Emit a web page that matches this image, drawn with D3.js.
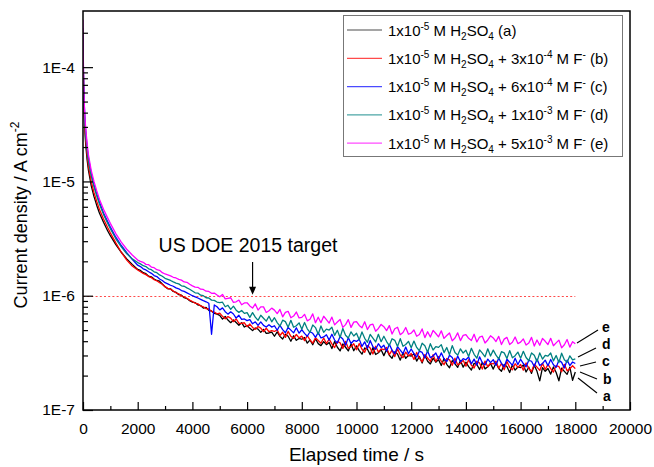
<!DOCTYPE html>
<html><head><meta charset="utf-8">
<script src="https://cdn.jsdelivr.net/npm/d3@7/dist/d3.min.js"></script>
<style>body{margin:0;background:#fff}svg{display:block}text{font-family:"Liberation Sans",Arial,sans-serif}</style>
</head><body><svg id="c" width="654" height="467"></svg>
<script>
// ---- data (current density in nA cm^-2, time in s) ----
const timeS = [0,10,25,50,75,100,150,200,300,400,500,600,750,900,1000,1200,1400,1600,1800,
2000,2100,2200,2300,2400,2500,2600,2700,2800,2900,
3000,3100,3200,3300,3400,3500,3600,3700,3800,3900,
4000,4100,4200,4300,4400,4500,4600,4700,4800,4900,
5000,5100,5200,5300,5400,5500,5600,5700,5800,5900,
6000,6100,6200,6300,6400,6500,6600,6700,6800,6900,
7000,7100,7200,7300,7400,7500,7600,7700,7800,7900,
8000,8100,8200,8300,8400,8500,8600,8700,8800,8900,
9000,9100,9200,9300,9400,9500,9600,9700,9800,9900,
10000,10100,10200,10300,10400,10500,10600,10700,10800,10900,
11000,11100,11200,11300,11400,11500,11600,11700,11800,11900,
12000,12100,12200,12300,12400,12500,12600,12700,12800,12900,
13000,13100,13200,13300,13400,13500,13600,13700,13800,13900,
14000,14100,14200,14300,14400,14500,14600,14700,14800,14900,
15000,15100,15200,15300,15400,15500,15600,15700,15800,15900,
16000,16100,16200,16300,16400,16500,16600,16700,16800,16900,
17000,17100,17200,17300,17400,17500,17600,17700,17800,17900,
18000];

const curA = [200000,100000,55000,35000,26000,21000,15500,12500,9200,7400,6200,5300,4400,3700,3350,2800,2400,2100,1880,
1700,1665,1590,1560,1480,1465,1400,1360,1340,1265,
1200,1150,1150,1090,1070,1020,1010,960,945,905,
880,870,830,820,780,790,745,735,700,690,
673,624,659,612,581,613,582,552,581,532,
549,518,495,522,510,478,508,469,472,481,
442,482,441,418,460,442,400,446,407,423,
416,431,385,411,372,420,381,366,397,373,
390,345,397,354,329,379,354,329,378,330,
364,331,308,349,340,305,351,306,317,337,
299,338,301,283,323,309,273,318,283,301,
296,311,268,294,258,302,267,253,284,262,
276,245,282,251,234,270,253,236,271,237,
262,240,224,256,250,226,261,229,239,255,
228,258,231,218,250,240,213,249,223,238,
235,248,215,237,209,246,218,180,235,218,
231,206,238,213,180,232,218,205,237,182,
215];

const curB = [210000,105000,58000,37000,28000,23000,17000,13500,10000,8000,6700,5700,4700,3950,3550,2900,2400,2050,1820,
1680,1620,1570,1530,1470,1440,1380,1350,1300,1260,
1200,1160,1140,1100,1060,1040,1000,975,950,915,
890,860,850,815,800,770,765,730,720,695,
704,660,628,657,637,593,626,574,573,580,
536,565,528,508,538,520,485,519,484,494,
487,504,449,479,432,487,441,423,458,428,
443,405,447,410,385,428,406,384,426,382,
417,379,352,398,387,346,399,347,358,380,
337,381,340,320,366,349,309,361,322,342,
337,353,305,334,293,343,303,287,321,297,
312,277,319,284,264,305,285,266,305,266,
294,268,249,282,275,246,284,248,256,272,
242,275,246,233,267,257,228,268,239,256,
253,267,232,255,225,266,236,225,254,236,
250,223,258,231,217,252,237,222,257,226,
251,230,215,245,240,216,251,220,229,244,
230];

const curC = [190000,115000,68000,45000,34000,27500,20000,16000,11800,9400,7800,6600,5300,4450,3980,3250,2750,2380,2080,
1850,1800,1720,1680,1620,1570,1500,1470,1400,1360,
1300,1270,1235,1210,1170,1150,1110,1090,1060,1030,
1000,978,955,930,905,885,860,460,830,800,
751,783,725,690,723,692,638,674,621,626,
606,617,568,591,549,590,550,532,558,532,
546,499,551,505,474,528,500,473,524,470,
504,468,442,484,469,432,477,427,436,455,
409,460,409,385,439,418,369,430,382,406,
398,417,360,395,346,406,358,340,380,351,
369,327,376,334,310,358,334,311,356,311,
342,311,290,328,319,286,329,287,297,315,
280,316,281,265,302,288,255,297,264,281,
275,291,253,279,247,292,259,248,279,260,
276,246,285,256,239,278,262,246,284,250,
278,255,239,272,267,240,279,245,255,273,
244,277,249,236,272,261,233,273,245,263,
255];

const curD = [220000,105000,62000,40000,31000,25500,19000,15000,11200,9000,7500,6350,5150,4300,3850,3150,2680,2330,2100,
1950,1900,1830,1800,1720,1690,1620,1590,1520,1480,
1420,1390,1360,1320,1290,1270,1220,1210,1170,1140,
1100,1060,1055,1010,1000,960,955,915,910,880,
869,877,801,825,760,810,747,715,742,700,
711,647,712,650,608,674,636,599,661,591,
642,582,541,611,593,530,609,530,546,579,
510,583,513,478,554,526,459,544,478,511,
501,530,450,499,431,517,451,426,483,444,
470,412,482,424,391,458,426,394,460,396,
442,397,366,420,407,360,421,361,374,399,
350,401,353,330,384,365,320,380,335,359,
353,373,318,352,305,366,319,302,343,315,
334,294,347,307,284,336,314,292,343,297,
334,302,280,324,316,282,331,286,299,321,
284,326,288,270,316,301,265,316,279,301,
296,315,269,300,260,314,275,261,298,275,
280];

const curE = [260000,130000,72000,46000,35000,29000,21500,17000,12500,10000,8300,7000,5700,4800,4300,3500,2950,2550,2270,
2050,2000,1960,1880,1870,1780,1760,1690,1670,1590,
1550,1520,1490,1450,1430,1390,1370,1320,1310,1260,
1220,1190,1185,1140,1135,1095,1090,1050,1055,1015,
980,1027,937,949,960,874,885,916,834,864,
867,814,780,848,749,798,799,714,739,779,
748,698,759,654,714,730,641,664,720,639,
647,687,603,623,693,580,649,581,661,618,
576,650,556,588,619,528,559,618,528,587,
594,550,524,592,506,556,563,489,517,561,
536,495,548,462,514,530,456,477,527,460,
470,501,442,458,512,430,484,435,497,467,
437,493,423,448,472,403,427,473,405,450,
456,424,406,460,394,435,442,386,410,446,
427,397,441,374,417,432,374,392,435,381,
392,419,370,385,432,363,410,369,423,399,
374,424,365,387,409,350,372,414,355,396,
380];

const seriesKeys = ["a","b","c","d","e"];
const seriesColors = ["#000000","#ff0000","#0000ff","#008080","#ff00ff"];
const seriesValues = [curA,curB,curC,curD,curE];
const legendLabels = [
  "1x10^{-5} M H_{2}SO_{4} (a)",
  "1x10^{-5} M H_{2}SO_{4} + 3x10^{-4} M F^{-} (b)",
  "1x10^{-5} M H_{2}SO_{4} + 6x10^{-4} M F^{-} (c)",
  "1x10^{-5} M H_{2}SO_{4} + 1x10^{-3} M F^{-} (d)",
  "1x10^{-5} M H_{2}SO_{4} + 5x10^{-3} M F^{-} (e)"
];
const xMajorTicks = [0,2000,4000,6000,8000,10000,12000,14000,16000,18000,20000];
const xMinorTicks = [1000,3000,5000,7000,9000,11000,13000,15000,17000,19000];
const yMajorTicks = [1e-7,1e-6,1e-5,1e-4];
const yTickLabels = ["1E-7","1E-6","1E-5","1E-4"];
const yMinorTicks = [2e-7,3e-7,4e-7,5e-7,6e-7,7e-7,8e-7,9e-7,2e-6,3e-6,4e-6,5e-6,6e-6,7e-6,8e-6,9e-6,
  2e-5,3e-5,4e-5,5e-5,6e-5,7e-5,8e-5,9e-5,2e-4];
const targetValue = 1e-6, targetEnd = 18000, targetArrowT = 6200;
const targetText = "US DOE 2015 target";
const xTitle = "Elapsed time / s";
const yTitle = "Current density / A cm";
const yTitleSup = "-2";
const unit = 1e-9;

// ---- layout ----
const L = 83, R = 630, T = 11, B = 410;
const svg = d3.select("#c");
const x = d3.scaleLinear().domain([0,20000]).range([L,R]);
const y = d3.scaleLog().domain([1e-7,3.1e-4]).range([B,T]);

svg.append("defs").append("clipPath").attr("id","clip").append("rect")
  .attr("x",L).attr("y",T).attr("width",R-L).attr("height",B-T);

// target dashed line (snapped to a pixel row)
const ty = Math.round(y(targetValue)) + 0.5;
svg.append("line").attr("x1",x(0)).attr("x2",x(targetEnd)).attr("y1",ty).attr("y2",ty)
  .attr("stroke","#ff4a4a").attr("stroke-width",1).attr("stroke-dasharray","2,2.2");

// data lines
const line = d3.line().x((d,i)=>x(timeS[i])).y(d=>y(d*unit));
const g = svg.append("g").attr("clip-path","url(#clip)");
seriesValues.forEach((vals,k)=>{
  g.append("path").datum(vals).attr("d",line).attr("fill","none")
    .attr("stroke",seriesColors[k]).attr("stroke-width",1.3).attr("stroke-linejoin","round");
});

// axes
const font = '"Liberation Sans",Arial,sans-serif';
const xAx = svg.append("g").attr("transform",`translate(0,${B})`)
  .call(d3.axisBottom(x).tickValues(xMajorTicks).tickSize(-8).tickPadding(13).tickFormat(d3.format("d")));
const xAxm = svg.append("g").attr("transform",`translate(0,${B})`)
  .call(d3.axisBottom(x).tickValues(xMinorTicks).tickSize(-4).tickFormat(""));
const yAx = svg.append("g").attr("transform",`translate(${L},0)`)
  .call(d3.axisLeft(y).tickValues(yMajorTicks).tickSize(-10).tickPadding(8).tickFormat((d,i)=>yTickLabels[i]));
const yAxm = svg.append("g").attr("transform",`translate(${L},0)`)
  .call(d3.axisLeft(y).tickValues(yMinorTicks).tickSize(-5).tickFormat(""));
[xAx,xAxm,yAx,yAxm].forEach(a=>{
  a.select(".domain").remove();
  a.selectAll(".tick line").attr("stroke","#000").attr("stroke-width",1.2);
  a.selectAll("text").attr("font-family",font).attr("font-size",15.5).attr("fill","#000");
});

// frame
svg.append("rect").attr("x",L).attr("y",T).attr("width",R-L).attr("height",B-T)
  .attr("fill","none").attr("stroke","#000").attr("stroke-width",1.5);

// titles
svg.append("text").attr("x",(L+R)/2).attr("y",461).attr("text-anchor","middle")
  .attr("font-size",19).text(xTitle);
const yt = svg.append("text").attr("transform","translate(27,215) rotate(-90)").attr("text-anchor","middle").attr("font-size",18);
yt.append("tspan").text(yTitle);
yt.append("tspan").attr("font-size",12).attr("dy",-8).text(yTitleSup);

// target annotation
const ax = x(targetArrowT), ay = y(targetValue);
svg.append("text").attr("x",248).attr("y",252).attr("text-anchor","middle").attr("font-size",19.5).text(targetText);
svg.append("line").attr("x1",ax).attr("x2",ax).attr("y1",262).attr("y2",ay-6).attr("stroke","#000").attr("stroke-width",1.2);
svg.append("path").attr("d",`M${ax-3.5},${ay-9} L${ax+3.5},${ay-9} L${ax},${ay-1} Z`).attr("fill","#000");

// legend
const lg = svg.append("g");
lg.append("rect").attr("x",343.5).attr("y",15.5).attr("width",279).attr("height",141)
  .attr("fill","#fff").attr("stroke","#777").attr("stroke-width",1);
function richText(sel, markup, base, small){
  const parts = markup.match(/(\^\{[^}]*\}|_\{[^}]*\}|[^\^_]+)/g);
  let cur = 0;
  parts.forEach(p=>{
    let off = 0, txt = p, size = base;
    if (p.startsWith("^{")) { off = -6; txt = p.slice(2,-1); size = small; }
    else if (p.startsWith("_{")) { off = 4; txt = p.slice(2,-1); size = small; }
    sel.append("tspan").attr("dy",off-cur).attr("font-size",size).text(txt);
    cur = off;
  });
}
legendLabels.forEach((lab,i)=>{
  const cy = 30 + i*28.3;
  lg.append("line").attr("x1",347).attr("x2",382).attr("y1",cy).attr("y2",cy)
    .attr("stroke",seriesColors[i]).attr("stroke-width",1.2).attr("opacity",0.7);
  const t = lg.append("text").attr("x",388).attr("y",cy+5.5).attr("font-size",15);
  richText(t, lab, 15, 10);
});

// end labels with leader lines
const endLabelPos = {e:[602,332],d:[602,349],c:[602,366],b:[603,384],a:[603,401]};
const leaders = {e:[577,343,598,330],d:[578,357,596,348],c:[580,366,596,362],b:[580,372,597,379],a:[578,378,597,393]};
seriesKeys.forEach(k=>{
  const l = leaders[k];
  svg.append("line").attr("x1",l[0]).attr("y1",l[1]).attr("x2",l[2]).attr("y2",l[3]).attr("stroke","#000").attr("stroke-width",1.1);
  svg.append("text").attr("x",endLabelPos[k][0]).attr("y",endLabelPos[k][1]).attr("font-size",14)
    .attr("font-weight","bold").text(k);
});
</script></body></html>
